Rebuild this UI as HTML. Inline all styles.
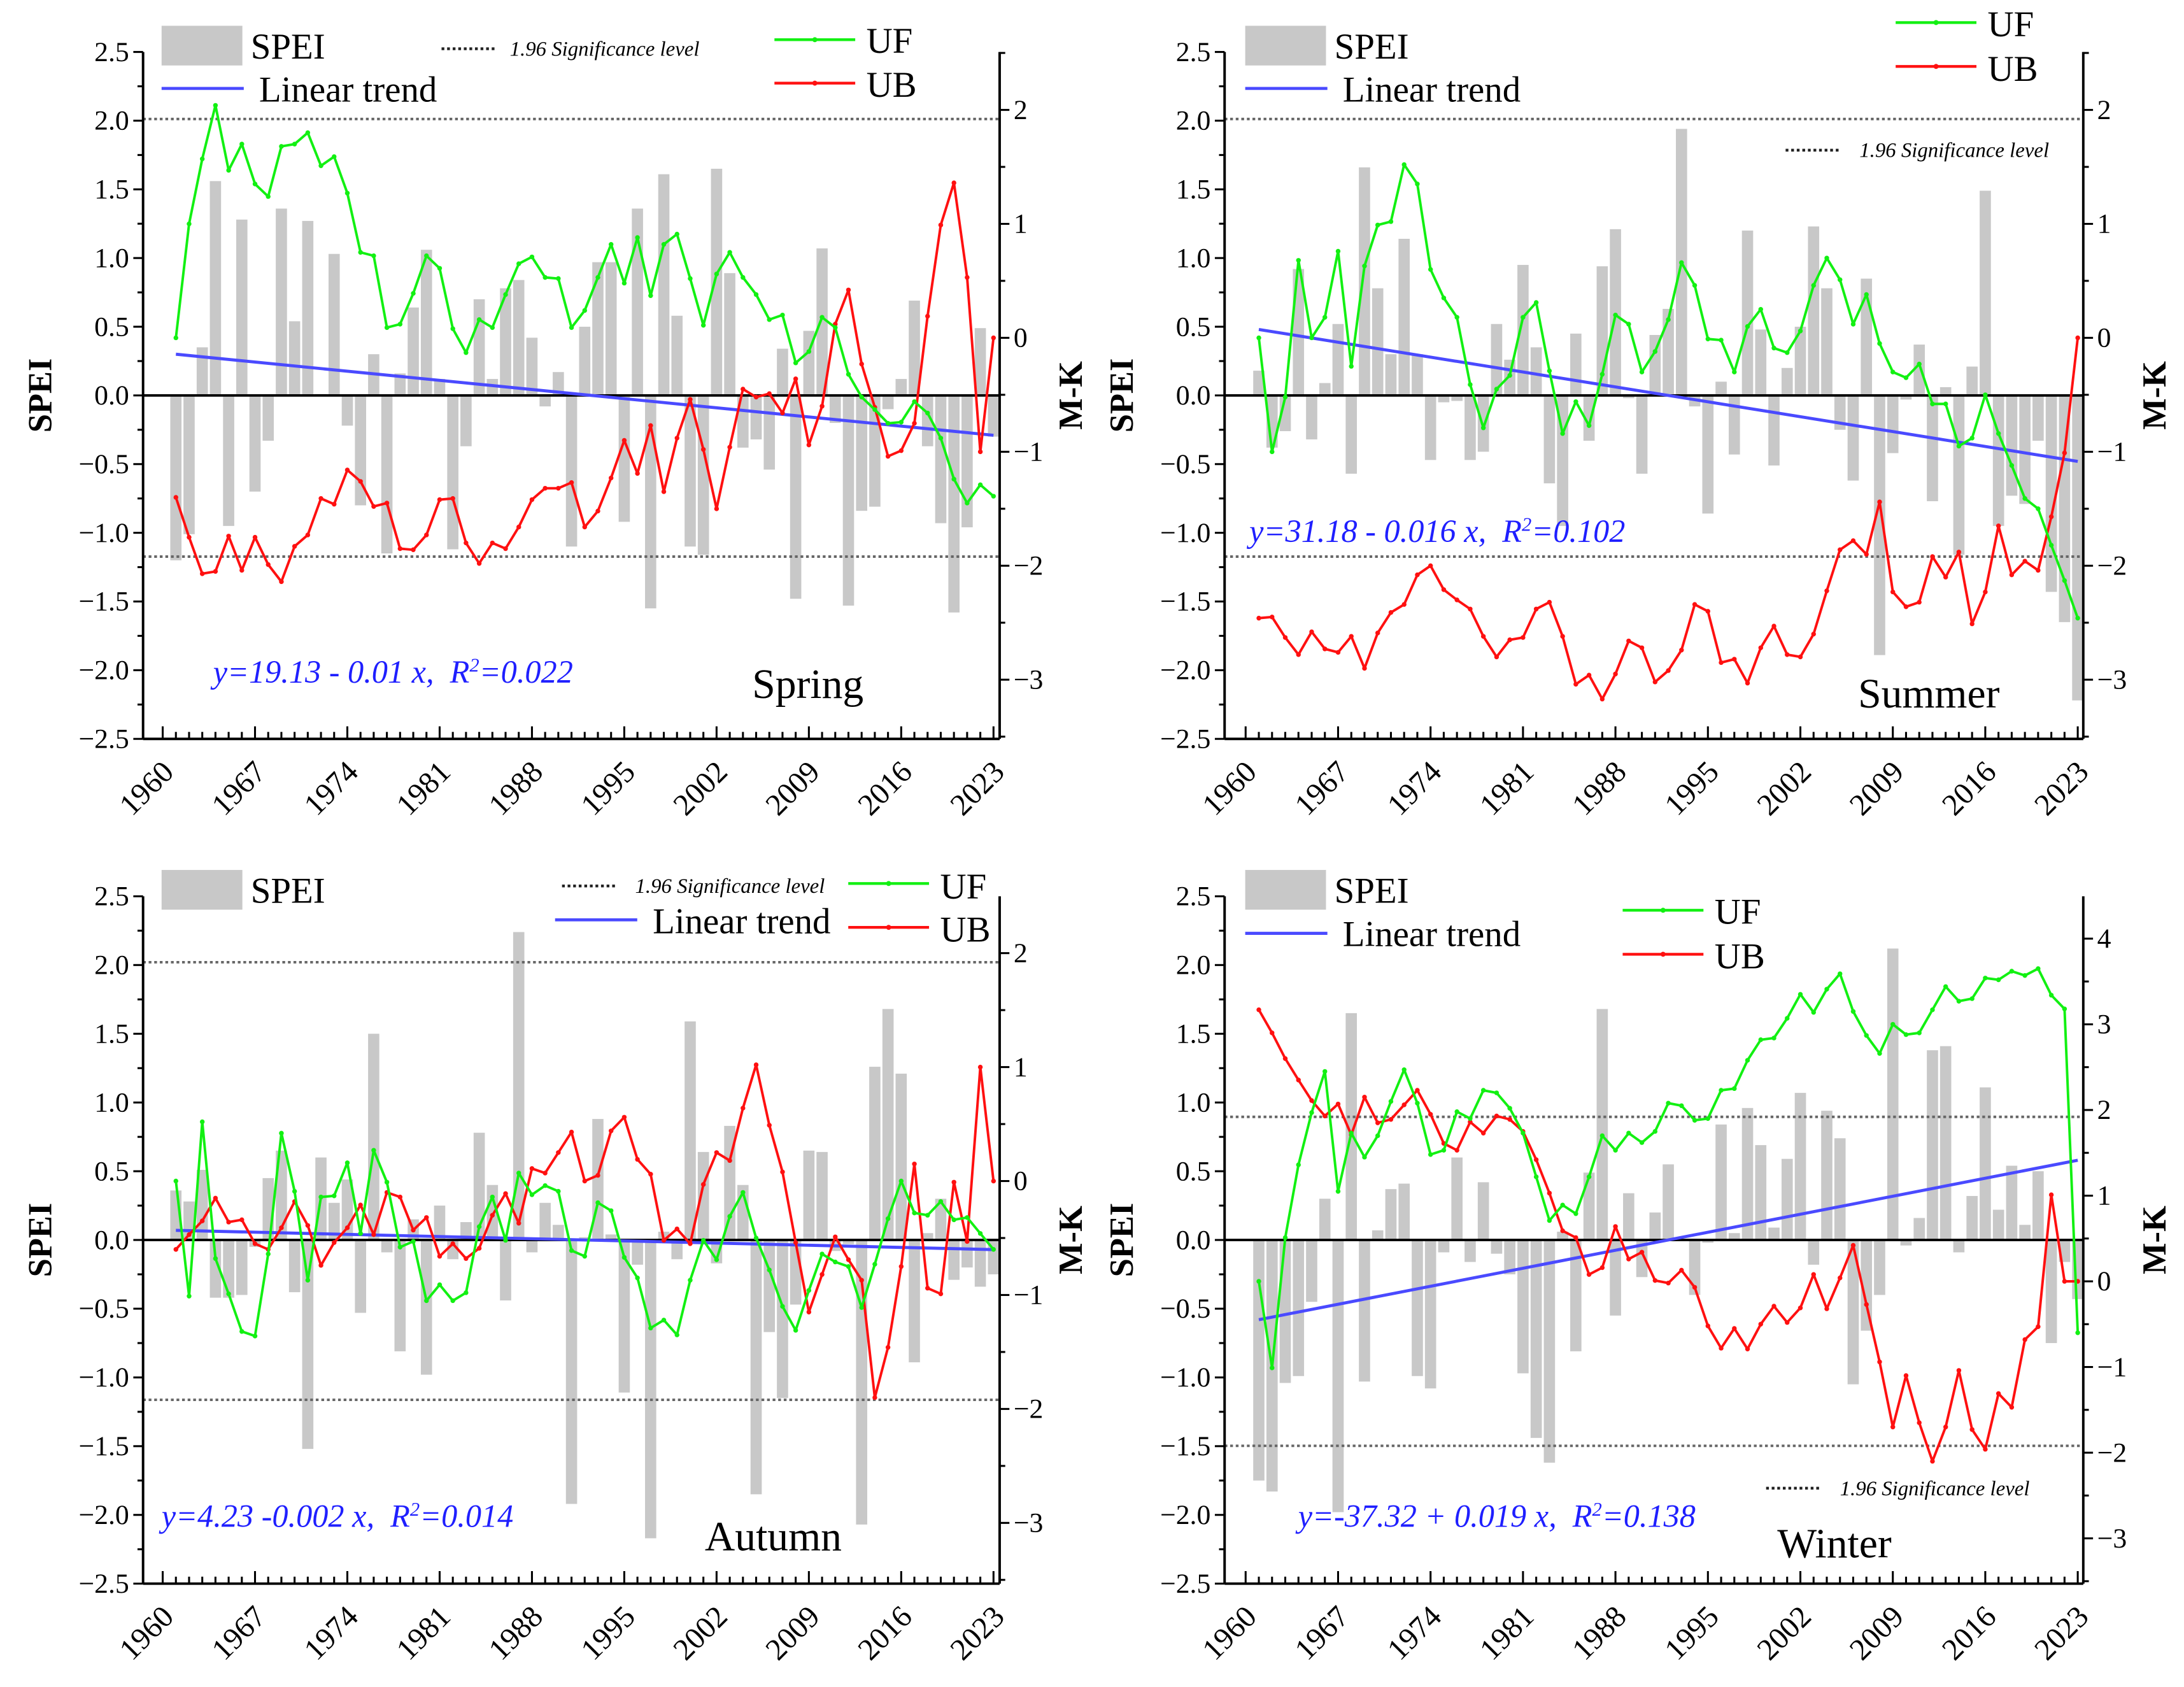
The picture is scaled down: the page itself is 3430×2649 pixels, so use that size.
<!DOCTYPE html>
<html><head><meta charset="utf-8"><style>
html,body{margin:0;padding:0;background:#fff;}
svg{display:block;font-family:"Liberation Serif",serif;}
</style></head><body>
<svg id="fig" width="3430" height="2649" viewBox="0 0 1568 1211" xmlns="http://www.w3.org/2000/svg">
<rect x="0" y="0" width="1568" height="1211" fill="#fff"/>
</svg>
<script>
const years = [];
for (let y = 1961; y <= 2023; y++) years.push(y);
const xTickLabels = ["1960","1967","1974","1981","1988","1995","2002","2009","2016","2023"];
const speiTickLabels = ["2.5","2.0","1.5","1.0","0.5","0.0","\u22120.5","\u22121.0","\u22121.5","\u22122.0","\u22122.5"];
const speiTickValues = [2.5,2,1.5,1,0.5,0,-0.5,-1,-1.5,-2,-2.5];

const springSpei = [-1.2,-1.01,0.35,1.56,-0.95,1.28,-0.7,-0.33,1.36,0.54,1.27,0.01,1.03,-0.22,-0.8,0.3,-1.15,0.16,0.64,1.06,0.12,-1.12,-0.37,0.7,0.12,0.78,0.84,0.42,-0.08,0.17,-1.1,0.5,0.97,0.97,-0.92,1.36,-1.55,1.61,0.58,-1.1,-1.16,1.65,0.89,-0.38,-0.32,-0.54,0.34,-1.48,0.47,1.07,-0.2,-1.53,-0.84,-0.81,-0.1,0.12,0.69,-0.37,-0.93,-1.58,-0.96,0.49,-0.3];
const springUF = [0,1.0,1.57,2.04,1.47,1.70,1.35,1.24,1.68,1.70,1.80,1.51,1.59,1.27,0.75,0.72,0.09,0.12,0.39,0.72,0.61,0.08,-0.13,0.16,0.09,0.38,0.65,0.71,0.53,0.52,0.09,0.24,0.53,0.82,0.48,0.88,0.37,0.82,0.91,0.52,0.11,0.56,0.75,0.53,0.38,0.16,0.2,-0.22,-0.12,0.18,0.09,-0.32,-0.52,-0.63,-0.75,-0.74,-0.56,-0.66,-0.88,-1.24,-1.45,-1.29,-1.39];
const springUB = [-1.40,-1.75,-2.07,-2.05,-1.74,-2.04,-1.75,-1.99,-2.14,-1.83,-1.73,-1.41,-1.46,-1.16,-1.26,-1.48,-1.45,-1.85,-1.86,-1.73,-1.42,-1.41,-1.80,-1.98,-1.80,-1.85,-1.66,-1.42,-1.32,-1.32,-1.27,-1.66,-1.52,-1.23,-0.90,-1.19,-0.77,-1.35,-0.88,-0.54,-0.98,-1.50,-0.96,-0.45,-0.52,-0.49,-0.66,-0.36,-0.94,-0.60,0.12,0.42,-0.23,-0.61,-1.04,-0.99,-0.75,0.19,0.99,1.36,0.53,-1.00,0];
const springTrend = [0.30,-0.29];

const summerSpei = [0.18,-0.38,-0.26,0.92,-0.32,0.09,0.52,-0.57,1.66,0.78,0.3,1.14,0.3,-0.47,-0.05,-0.04,-0.47,-0.41,0.52,0.26,0.95,0.35,-0.64,-0.95,0.45,-0.33,0.94,1.21,-0.02,-0.57,0.44,0.63,1.94,-0.08,-0.86,0.1,-0.43,1.2,0.48,-0.51,0.2,0.5,1.23,0.78,-0.25,-0.62,0.85,-1.89,-0.42,-0.03,0.37,-0.77,0.06,-1.16,0.21,1.49,-0.95,-0.73,-0.79,-0.33,-1.43,-1.65,-2.22];
const summerUF = [0,-1.0,-0.52,0.68,0,0.18,0.76,-0.25,0.63,0.99,1.02,1.52,1.35,0.60,0.35,0.18,-0.41,-0.79,-0.45,-0.33,0.18,0.31,-0.29,-0.84,-0.56,-0.77,-0.32,0.20,0.12,-0.30,-0.12,0.16,0.66,0.46,-0.01,-0.02,-0.30,0.10,0.25,-0.09,-0.13,0.06,0.46,0.70,0.51,0.12,0.38,-0.05,-0.30,-0.35,-0.23,-0.58,-0.58,-0.95,-0.88,-0.50,-0.84,-1.12,-1.41,-1.50,-1.82,-2.13,-2.46];
const summerUB = [-2.46,-2.45,-2.63,-2.78,-2.58,-2.73,-2.76,-2.62,-2.90,-2.59,-2.41,-2.34,-2.08,-2.00,-2.21,-2.30,-2.38,-2.62,-2.80,-2.65,-2.63,-2.38,-2.32,-2.62,-3.04,-2.96,-3.17,-2.95,-2.66,-2.72,-3.02,-2.92,-2.74,-2.34,-2.40,-2.85,-2.82,-3.03,-2.72,-2.53,-2.78,-2.80,-2.60,-2.22,-1.86,-1.78,-1.90,-1.44,-2.23,-2.36,-2.32,-1.92,-2.10,-1.88,-2.51,-2.23,-1.65,-2.08,-1.96,-2.04,-1.57,-1.01,0];
const summerTrend = [0.48,-0.48];

const autumnSpei = [0.36,0.28,0.51,-0.42,-0.42,-0.4,-0.05,0.45,0.65,-0.38,-1.52,0.6,0.27,0.44,-0.53,1.5,-0.09,-0.81,0.15,-0.98,0.25,-0.14,0.13,0.78,0.4,-0.44,2.24,-0.09,0.27,0.11,-1.92,0.02,0.88,0.04,-1.11,-0.18,-2.17,0.06,-0.14,1.59,0.64,-0.17,0.83,0.4,-1.85,-0.67,-1.15,-0.47,0.65,0.64,-0.08,-0.03,-2.07,1.26,1.68,1.21,-0.89,0.05,0.3,-0.29,-0.2,-0.34,-0.25];
const autumnUF = [0,-1.01,0.52,-0.68,-0.99,-1.32,-1.36,-0.64,0.42,-0.09,-0.87,-0.14,-0.13,0.16,-0.46,0.27,-0.01,-0.58,-0.53,-1.05,-0.91,-1.05,-0.98,-0.40,-0.14,-0.52,0.07,-0.12,-0.04,-0.09,-0.61,-0.66,-0.19,-0.26,-0.67,-0.85,-1.29,-1.22,-1.35,-0.87,-0.52,-0.69,-0.31,-0.10,-0.50,-0.78,-1.10,-1.31,-0.96,-0.64,-0.71,-0.75,-1.11,-0.73,-0.33,0,-0.28,-0.30,-0.18,-0.34,-0.32,-0.46,-0.60];
const autumnUB = [-0.60,-0.47,-0.35,-0.15,-0.36,-0.34,-0.55,-0.60,-0.41,-0.18,-0.39,-0.74,-0.54,-0.41,-0.21,-0.47,-0.10,-0.14,-0.43,-0.32,-0.66,-0.55,-0.68,-0.59,-0.30,-0.11,-0.37,0.11,0.07,0.25,0.43,0,0.05,0.44,0.56,0.19,0.06,-0.52,-0.42,-0.55,-0.03,0.25,0.18,0.64,1.02,0.49,0.08,-0.54,-1.15,-0.82,-0.49,-0.69,-0.87,-1.90,-1.46,-0.75,0.15,-0.94,-0.99,-0.01,-0.53,1.00,0];
const autumnTrend = [0.07,-0.07];

const winterSpei = [-1.75,-1.83,-1.04,-0.99,-0.45,0.3,-1.98,1.65,-1.03,0.07,0.37,0.41,-0.99,-1.08,-0.09,0.6,-0.16,0.42,-0.1,-0.25,-0.97,-1.44,-1.62,0.06,-0.81,0.49,1.68,-0.55,0.34,-0.27,0.2,0.55,0.0,-0.4,-0.02,0.84,0.05,0.96,0.69,0.09,0.59,1.07,-0.18,0.94,0.74,-1.05,-0.66,-0.4,2.12,-0.04,0.16,1.38,1.41,-0.09,0.32,1.11,0.22,0.54,0.11,0.5,-0.75,-0.16,-0.43];
const winterUF = [0,-1.01,0.51,1.36,1.97,2.45,1.05,1.73,1.45,1.70,2.10,2.47,2.08,1.48,1.53,1.98,1.90,2.23,2.20,2.02,1.73,1.22,0.71,0.89,0.79,1.22,1.70,1.53,1.73,1.62,1.75,2.08,2.05,1.88,1.90,2.23,2.25,2.58,2.82,2.84,3.07,3.35,3.14,3.41,3.59,3.15,2.87,2.66,3.00,2.88,2.90,3.17,3.44,3.27,3.30,3.54,3.52,3.62,3.57,3.65,3.34,3.18,-0.60];
const winterUB = [3.17,2.90,2.60,2.35,2.11,1.93,2.07,1.71,2.15,1.85,1.89,2.06,2.23,1.95,1.61,1.53,1.86,1.73,1.93,1.89,1.75,1.42,1.03,0.59,0.51,0.08,0.16,0.64,0.26,0.34,0.01,-0.02,0.13,-0.07,-0.52,-0.78,-0.55,-0.79,-0.50,-0.29,-0.48,-0.31,0.08,-0.32,0.04,0.42,-0.27,-0.94,-1.70,-1.10,-1.65,-2.10,-1.70,-1.04,-1.73,-1.96,-1.31,-1.47,-0.68,-0.53,1.01,0,0];
const winterTrend = [-0.58,0.58];

const mkTicksA = [2,1,0,-1,-2,-3];
const mkTicksB = [4,3,2,1,0,-1,-2,-3];
const sigLevel = 1.92;

const NS = "http://www.w3.org/2000/svg";
const svg = document.getElementById("fig");
function mk(tag, attrs, parent) {
  const e = document.createElementNS(NS, tag);
  for (const k in attrs) e.setAttribute(k, attrs[k]);
  (parent || svg).appendChild(e);
  return e;
}

const panels = [
  {key:"spring", title:"Spring", spei:springSpei, uf:springUF, ub:springUB, trend:springTrend, mkTicks:mkTicksA,
   left:102.7, right:717.7, top:37.3, bottom:530.4, x1960:116.8, step:9.468, mk0:242.5, mu:81.8,
   eq:"y=19.13 - 0.01 x,\u00a0\u00a0R", eqEnd:"=0.022", eqX:153, eqY:490, seasonX:540, seasonY:501,
   leg:{rectX:116,rectY:18.5,speiX:180,speiY:42,trendY:63.5,trendX:116,trendTX:186,trendTY:73,
        sigX:317,sigY:35,sigTX:366,ufX:556,ufY:28.5,ufTY:37,ubY:59.7,ubTY:68.5}},
  {key:"summer", title:"Summer", spei:summerSpei, uf:summerUF, ub:summerUB, trend:summerTrend, mkTicks:mkTicksA,
   left:879.2, right:1495.7, top:37.3, bottom:530.4, x1960:894.3, step:9.483, mk0:242.5, mu:81.8,
   eq:"y=31.18 - 0.016 x,\u00a0\u00a0R", eqEnd:"=0.102", eqX:897, eqY:389, seasonX:1334, seasonY:508,
   leg:{rectX:894,rectY:18.5,speiX:958,speiY:42,trendY:63.5,trendX:894,trendTX:964,trendTY:73,
        sigX:1282,sigY:107.8,sigTX:1335,ufX:1361,ufY:16.2,ufTY:25,ubY:47.7,ubTY:57}},
  {key:"autumn", title:"Autumn", spei:autumnSpei, uf:autumnUF, ub:autumnUB, trend:autumnTrend, mkTicks:mkTicksA,
   left:102.7, right:717.7, top:643.4, bottom:1136.8, x1960:116.8, step:9.468, mk0:847.8, mu:81.8,
   eq:"y=4.23 -0.002 x,\u00a0\u00a0R", eqEnd:"=0.014", eqX:116, eqY:1096, seasonX:506, seasonY:1113,
   leg:{rectX:116,rectY:624.5,speiX:180,speiY:648,trendY:660.3,trendX:398.5,trendTX:468.6,trendTY:670,
        sigX:403.5,sigY:636,sigTX:456,ufX:609,ufY:634.2,ufTY:644,ubY:665.7,ubTY:675}},
  {key:"winter", title:"Winter", spei:winterSpei, uf:winterUF, ub:winterUB, trend:winterTrend, mkTicks:mkTicksB,
   left:879.2, right:1495.7, top:643.4, bottom:1136.8, x1960:894.3, step:9.483, mk0:919.8, mu:61.5,
   eq:"y=-37.32 + 0.019 x,\u00a0\u00a0R", eqEnd:"=0.138", eqX:932, eqY:1096, seasonX:1276, seasonY:1118,
   leg:{rectX:894,rectY:624.5,speiX:958,speiY:648,trendY:670,trendX:894,trendTX:964,trendTY:679,
        sigX:1268,sigY:1068.3,sigTX:1321,ufX:1165,ufY:653.4,ufTY:662,ubY:685,ubTY:694}}
];

panels.forEach(p => {
  const g = mk("g", {});
  
  
  const spei0 = (p.top + p.bottom) / 2;
  const su = (p.bottom - p.top) / 5;
  const xOf = yr => p.x1960 + (yr - 1960) * p.step;
  const yS = v => spei0 - v * su;
  const yM = v => p.mk0 - v * p.mu;
  const bw = p.step * 0.85;

  const bars = mk("g", {}, g);
  
  
  p.spei.forEach((v, i) => {
    const x = xOf(years[i]);
    const r = mk("rect", {x:(x-bw/2).toFixed(2), y:Math.min(yS(v),yS(0)).toFixed(2), width:bw.toFixed(2), height:Math.abs(yS(v)-yS(0)).toFixed(2), fill:"#c8c8c8"}, bars);
    
    
  });

  [sigLevel, -sigLevel].forEach((s, k) => {
    const l = mk("line", {x1:p.left, x2:p.right, y1:yM(s), y2:yM(s), stroke:"#666", "stroke-width":1.8, "stroke-dasharray":"2 2"}, g);
    
    
  });

  const z = mk("line", {x1:p.left, x2:p.right, y1:yS(0), y2:yS(0), stroke:"#000", "stroke-width":1.8}, g);
  
  

  const t = mk("line", {x1:xOf(1961), x2:xOf(2023), y1:yS(p.trend[0]), y2:yS(p.trend[1]), stroke:"#4a4aff", "stroke-width":2.2}, g);
  
  

  [[p.ub, "#ff1010", "ub"], [p.uf, "#12f012", "uf"]].forEach(([arr, col, nm]) => {
    const pts = arr.map((v, i) => xOf(years[i]).toFixed(2) + "," + yM(v).toFixed(2)).join(" ");
    const pl = mk("polyline", {points:pts, fill:"none", stroke:col, "stroke-width":1.8, "stroke-linejoin":"round"}, g);
    
    
    arr.forEach((v, i) => {
      const c = mk("circle", {cx:xOf(years[i]).toFixed(2), cy:yM(v).toFixed(2), r:1.7, fill:col}, g);
      
      
    });
  });

  const ax = mk("g", {stroke:"#000", "stroke-width":1.8, fill:"none"}, g);
  
  
  mk("line", {x1:p.left, x2:p.left, y1:p.top, y2:p.bottom}, ax);
  mk("line", {x1:p.right, x2:p.right, y1:p.top, y2:p.bottom}, ax);
  mk("line", {x1:p.left, x2:p.right, y1:p.bottom, y2:p.bottom}, ax);
  for (let v = -2.5; v <= 2.5001; v += 0.25) {
    const major = Math.abs(v*2 - Math.round(v*2)) < 1e-6;
    mk("line", {x1:p.left, x2:p.left-(major?7:4), y1:yS(v), y2:yS(v), "stroke-width":1.4}, ax);
  }
  speiTickValues.forEach((v, i) => {
    const tx = mk("text", {x:p.left-10, y:yS(v)+6.5, "font-size":20, "text-anchor":"end", fill:"#000", stroke:"none"}, g);
    tx.textContent = speiTickLabels[i];
    
    
  });
  const mkMax = (p.mk0 - p.top) / p.mu, mkMin = (p.mk0 - p.bottom) / p.mu;
  for (let v = Math.ceil(mkMin*2)/2; v <= mkMax; v += 0.5) {
    const major = Math.abs(v - Math.round(v)) < 1e-6;
    mk("line", {x1:p.right, x2:p.right+(major?7:4), y1:yM(v), y2:yM(v), "stroke-width":1.4}, ax);
  }
  p.mkTicks.forEach(v => {
    const tx = mk("text", {x:p.right+10, y:yM(v)+6.5, "font-size":20, fill:"#000", stroke:"none"}, g);
    tx.textContent = v < 0 ? "\u2212" + Math.abs(v) : String(v);
    
    
  });
  for (let yr = 1960; yr <= 2023; yr++) {
    const major = (yr - 1960) % 7 === 0;
    mk("line", {x1:xOf(yr), x2:xOf(yr), y1:p.bottom, y2:p.bottom-(major?9:5), "stroke-width":1.4}, ax);
  }
  xTickLabels.forEach(lb => {
    const x = xOf(+lb) + 9, y = p.bottom + 25;
    const tx = mk("text", {x:x, y:y, "font-size":22, "text-anchor":"end", transform:`rotate(-45 ${x} ${y})`}, g);
    tx.textContent = lb;
    
    
  });
  const ycen = (p.top + p.bottom) / 2;
  const lx = p.left - 66;
  const lt = mk("text", {x:lx, y:ycen, "font-size":24, "font-weight":"bold", "text-anchor":"middle", transform:`rotate(-90 ${lx} ${ycen})`}, g);
  lt.textContent = "SPEI";
  
  
  const rx = p.right + 59;
  const rt = mk("text", {x:rx, y:ycen, "font-size":24, "font-weight":"bold", "text-anchor":"middle", transform:`rotate(-90 ${rx} ${ycen})`}, g);
  rt.textContent = "M-K";
  
  

  const eq = mk("text", {x:p.eqX, y:p.eqY, "font-size":23, "font-style":"italic", fill:"#1f1fff"}, g);
  
  
  const t1 = mk("tspan", {}, eq); t1.textContent = p.eq;
  const t2 = mk("tspan", {dy:-8, "font-size":14}, eq); t2.textContent = "2";
  const t3 = mk("tspan", {dy:8}, eq); t3.textContent = p.eqEnd;
  const se = mk("text", {x:p.seasonX, y:p.seasonY, "font-size":30}, g);
  se.textContent = p.title;
  
  

  const L = p.leg;
  const lg = mk("g", {}, g);
  
  
  mk("rect", {x:L.rectX, y:L.rectY, width:58, height:28.5, fill:"#c8c8c8"}, lg);
  let tx = mk("text", {x:L.speiX, y:L.speiY, "font-size":26}, lg); tx.textContent = "SPEI";
  
  
  mk("line", {x1:L.trendX, x2:L.trendX+59, y1:L.trendY, y2:L.trendY, stroke:"#4a4aff", "stroke-width":2.2}, lg);
  tx = mk("text", {x:L.trendTX, y:L.trendTY, "font-size":26}, lg); tx.textContent = "Linear trend";
  
  
  mk("line", {x1:L.sigX, x2:L.sigX+38, y1:L.sigY, y2:L.sigY, stroke:"#222", "stroke-width":2, "stroke-dasharray":"2 2"}, lg);
  tx = mk("text", {x:L.sigTX, y:L.sigY+5, "font-size":15, "font-style":"italic"}, lg); tx.textContent = "1.96 Significance level";
  
  
  [["UF", "#12f012", L.ufY, L.ufTY], ["UB", "#ff1010", L.ubY, L.ubTY]].forEach(([nm, col, ly, ty]) => {
    mk("line", {x1:L.ufX, x2:L.ufX+58, y1:ly, y2:ly, stroke:col, "stroke-width":2}, lg);
    mk("circle", {cx:L.ufX+29, cy:ly, r:1.8, fill:col}, lg);
    const t = mk("text", {x:L.ufX+66, y:ty+1, "font-size":26}, lg); t.textContent = nm;
    
    
  });
});
</script>
</body></html>
